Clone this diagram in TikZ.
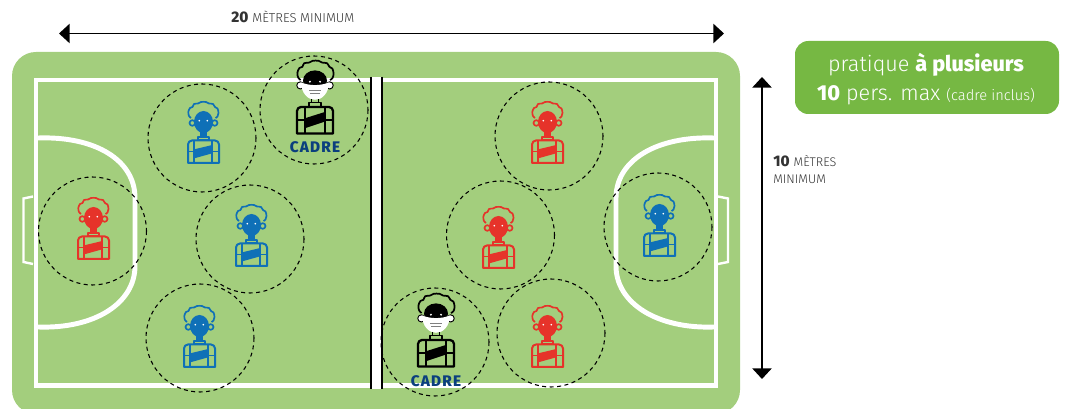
\documentclass[tikz,border=0pt]{standalone}
\usepackage{fontspec}
\usetikzlibrary{arrows.meta}
\setmainfont{Fira Sans}
\newfontfamily\lightf{Fira Sans Light}
\newfontfamily\heavyf{Fira Sans ExtraBold}
\definecolor{fieldg}{HTML}{A3CE7D}
\definecolor{badgeg}{HTML}{76B843}
\definecolor{pblue}{HTML}{0F70B7}
\definecolor{pred}{HTML}{E6332A}
\definecolor{cadreb}{HTML}{0B3F7E}
\definecolor{txt}{HTML}{333333}
\newcommand{\hairpath}{plot[smooth,tension=0.55] coordinates {(-12,-20) (-14,-22) (-14.7,-26) (-13,-30) (-10.5,-31) (-9,-34) (-5,-34.5) (-2,-36) (3,-36) (6,-34.5) (10,-34) (12,-31) (14.5,-29.5) (15.5,-25) (14.5,-21.5) (12.5,-20)}}
\tikzset{
  x=0.75pt,y=-0.75pt,
  zone/.style={draw=black,line width=0.8pt,dash pattern=on 3pt off 2.6pt},
  pitch/.style={draw=white,line width=3.7pt},
  goalbox/.style={draw=white,line width=1.8pt},
  dim/.style={draw=black,line width=1.1pt,{Triangle[length=8pt,width=14.5pt]}-{Triangle[length=8pt,width=14.5pt]}},
  cadretag/.style={text=cadreb,font=\heavyf\fontsize{11.5}{12}\selectfont\addfontfeature{LetterSpace=8}},
  small/.style={text=txt,anchor=west,inner sep=0pt,font=\lightf\fontsize{9.4}{10}\selectfont},
  player/.pic={
    \begin{scope}[draw=#1,line width=1.25pt,line join=round]
    \draw \hairpath;
    \draw (-10.7,-15) circle[radius=2.8];
    \draw (11.7,-15) circle[radius=2.8];
    \fill[#1] (0.5,-16) ellipse[x radius=9.5,y radius=11];
    \fill[#1] (-3,-8) rectangle (4,0);
    \fill[white] (-3.7,-17.3) circle[radius=0.9] (4.3,-17.3) circle[radius=0.9];
    \draw (-5.3,-1) rectangle (6.3,2);
    \draw[line width=1.5pt] (-15,25) [rounded corners=3pt] -- (-15,2.5) -- (16,2.5) [sharp corners] -- (16,25) -- cycle;
    \draw[line width=1.4pt] (-8.7,2.5) -- (-8.7,25) (9.3,2.5) -- (9.3,25) (-15,13.5) -- (-8.7,13.5) (9.3,13.5) -- (16,13.5);
    \fill[#1] (-8.7,11.3) -- (9.3,7) -- (9.3,15.3) -- (-8.7,20.3) -- cycle;
    \end{scope}
  },
  coach/.pic={
    \begin{scope}[draw=black,line width=1.3pt,line join=round]
    \draw \hairpath;
    \fill[black] (0,-19.5) ellipse[x radius=10,y radius=8.5];
    \filldraw[fill=white,line width=0.7pt] (-12.2,-15.5) circle[radius=3];
    \filldraw[fill=white,line width=0.7pt] (12.2,-15.5) circle[radius=3];
    \fill[white] (-11.5,-18) .. controls (-5,-15) and (5,-15) .. (11.5,-18) .. controls (11.5,-9) and (6,-3.5) .. (0,-3.5) .. controls (-6,-3.5) and (-11.5,-9) .. (-11.5,-18) -- cycle;
    \fill[white] (-4.2,-18.6) circle[radius=0.9] (4.2,-18.6) circle[radius=0.9];
    \draw[gray,line width=0.5pt] (-5,-11) -- (5,-11) (-4,-8.5) -- (4,-8.5);
    \draw (-3,-4) -- (-3,-1) (3,-4) -- (3,-1);
    \draw (-5.3,-1.2) rectangle (5.3,2);
    \draw[line width=1.7pt] (-15,24.5) [rounded corners=3pt] -- (-15,2.5) -- (15,2.5) [sharp corners] -- (15,24.5) -- cycle;
    \draw[line width=1.5pt] (-8.7,2.5) -- (-8.7,24.5) (8.7,2.5) -- (8.7,24.5) (-15,13.5) -- (-8.7,13.5) (8.7,13.5) -- (15,13.5);
    \fill[black] (-8.7,12) -- (8.7,6.5) -- (8.7,14.5) -- (-8.7,20.3) -- cycle;
    \end{scope}
  }
}
\begin{document}
\begin{tikzpicture}
\useasboundingbox (0,0) rectangle (1067,409);
\begin{scope}
\clip (0,0) rectangle (1067,409);
\fill[fieldg,rounded corners=18pt] (12,52) rectangle (740,414);
\end{scope}
% pitch
\draw[pitch] (36,80) rectangle (716,385.5);
\draw[pitch] (38,138) .. controls (95,136) and (135,160) .. (135,198) -- (135,266) .. controls (135,303) and (95,329) .. (38,327);
\draw[pitch] (714,138) .. controls (657,136) and (616,160) .. (616,198) -- (616,266) .. controls (616,303) and (657,329) .. (714,327);
\draw[goalbox] (33,196.5) -- (23.5,198.5) -- (23.5,262) -- (33,264);
\draw[goalbox] (718,196.5) -- (728,198.5) -- (728,262) -- (718,264);
\fill[white] (371,77) rectangle (382,389);
\draw[black,line width=1.5pt] (371,77) -- (371,389) (382,77) -- (382,389);
% zones
\draw[zone] (202,138) circle[radius=54];
\draw[zone] (314,110) circle[radius=54];
\draw[zone] (92.5,231) circle[radius=54];
\draw[zone] (250,239) circle[radius=54];
\draw[zone] (200,338) circle[radius=54];
\draw[zone] (549,136) circle[radius=54];
\draw[zone] (500.5,235) circle[radius=54];
\draw[zone] (658,227) circle[radius=54];
\draw[zone] (435,342) circle[radius=54];
\draw[zone] (551,333) circle[radius=54];
% players
\pic at (203,138) {player=pblue};
\pic at (251,241) {player=pblue};
\pic at (199,342) {player=pblue};
\pic at (659,231) {player=pblue};
\pic at (93,234) {player=pred};
\pic at (547,138) {player=pred};
\pic at (498,243) {player=pred};
\pic at (547,342) {player=pred};
\pic[scale=1.2] at (315,104) {coach};
\pic[scale=1.2] at (436,337) {coach};
\node[cadretag] (c1) at (315,147) {CADRE};
\node[cadretag] (c2) at (436,381) {CADRE};
% dimensions
\coordinate (hl) at (59,33.5);
\coordinate (hr) at (724,33.5);
\coordinate (vt) at (762,77);
\coordinate (vb) at (762,379);
\draw[dim] (hl) -- (hr);
\draw[dim] (vt) -- (vb);
\node[small,font=\lightf\fontsize{9.7}{10}\selectfont] (t20) at (231,17) {{\heavyf\fontsize{11.5}{12}\selectfont 20}\hspace{3pt}MÈTRES MINIMUM};
\node[small] (t10) at (773,161) {{\heavyf\fontsize{11.5}{12}\selectfont 10}\hspace{3pt}MÈTRES};
\node[small] (tmin) at (773,179) {MINIMUM};
% badge
\fill[badgeg,rounded corners=10pt] (795,41) rectangle (1059,114) ;
\node[text=white,inner sep=0pt,font=\lightf\fontsize{16.2}{18}\selectfont] (b1) at (926,65) {pratique {\heavyf à plusieurs}};
\node[text=white,inner sep=0pt,font=\lightf\fontsize{16.2}{18}\selectfont] (b2) at (926,95) {{\heavyf 10} pers. max {\fontsize{11}{12}\selectfont (cadre inclus)}};
\end{tikzpicture}
\end{document}
